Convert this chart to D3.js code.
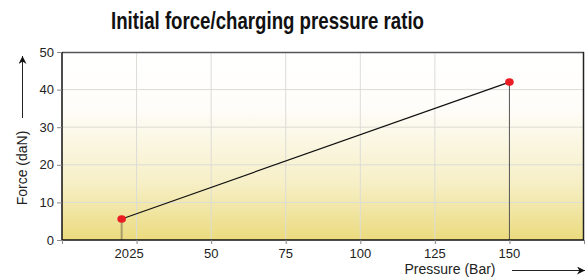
<!DOCTYPE html>
<html>
<head>
<meta charset="utf-8">
<script src="https://cdn.jsdelivr.net/npm/d3@7"></script>
<style>
  body { margin: 0; background: #fff; }
  svg { display: block; font-family: "Liberation Sans", Arial, sans-serif; }
</style>
</head>
<body>
<svg width="586" height="278"></svg>
<script>
// data
const pressure = [20, 150];      // Bar
const force = [5.6, 42];         // daN
const xTicks = [0, 25, 50, 75, 100, 125, 150, 175];
const xLabels = [20, 25, 50, 75, 100, 125, 150];
const yTicks = [0, 10, 20, 30, 40, 50];

const svg = d3.select("svg"),
  margin = { top: 52, right: 2, bottom: 38, left: 62 },
  width = +svg.attr("width") - margin.left - margin.right,
  height = +svg.attr("height") - margin.top - margin.bottom;

const x = d3.scaleLinear().domain([0, 175]).range([0, width]);
const y = d3.scaleLinear().domain([0, 50]).range([height, 0]);

// background gradient
const grad = svg.append("defs").append("linearGradient")
  .attr("id", "bg").attr("x1", 0).attr("y1", 0).attr("x2", 0).attr("y2", 1);
grad.append("stop").attr("offset", "0%").attr("stop-color", "#ffffff");
grad.append("stop").attr("offset", "30%").attr("stop-color", "#fefdf9");
grad.append("stop").attr("offset", "70%").attr("stop-color", "#f6efc6");
grad.append("stop").attr("offset", "100%").attr("stop-color", "#ebdb7e");

// condensed bold title, squeezed to the reference width
svg.append("text")
  .attr("x", 111).attr("y", 29)
  .attr("textLength", 313).attr("lengthAdjust", "spacingAndGlyphs")
  .style("font-family", "'Liberation Sans', Arial, sans-serif")
  .style("font-weight", "bold")
  .style("font-size", "24px")
  .attr("fill", "#111")
  .text("Initial force/charging pressure ratio");

const g = svg.append("g")
  .attr("transform", "translate(" + margin.left + "," + margin.top + ")");

g.append("rect")
  .attr("width", width).attr("height", height)
  .attr("fill", "url(#bg)");

// grid
g.selectAll(".hgrid").data(yTicks.slice(1, -1)).enter().append("line")
  .attr("x1", 0).attr("x2", width)
  .attr("y1", d => y(d)).attr("y2", d => y(d))
  .attr("stroke", "#dcdcd6").attr("stroke-width", 1);
g.selectAll(".vgrid").data([25, 50, 75, 100, 125]).enter().append("line")
  .attr("y1", 0).attr("y2", height)
  .attr("x1", d => x(d)).attr("x2", d => x(d))
  .attr("stroke", "#dcdcd6").attr("stroke-width", 1);

// frame
g.append("line").attr("x1", 0).attr("x2", width).attr("y1", 0.5).attr("y2", 0.5)
  .attr("stroke", "#555").attr("stroke-width", 1.5);
g.append("line").attr("x1", width - 0.5).attr("x2", width - 0.5).attr("y1", 0).attr("y2", height)
  .attr("stroke", "#222").attr("stroke-width", 1.5);

// drop lines
const dropColors = ["#a89c68", "#555555"];
const dropWidths = [2, 1];
g.selectAll(".drop").data(pressure).enter().append("line")
  .attr("x1", d => x(d)).attr("x2", d => x(d))
  .attr("y1", (d, i) => y(force[i])).attr("y2", height)
  .attr("stroke", (d, i) => dropColors[i])
  .attr("stroke-width", (d, i) => dropWidths[i]);

// axes
const yAxis = g.append("g")
  .call(d3.axisLeft(y).tickValues(yTicks).tickSize(5).tickPadding(3));
yAxis.select(".domain").attr("stroke", "#111").attr("stroke-width", 1.5).attr("d", "M0,0V" + height);
yAxis.selectAll(".tick line").attr("stroke", "#888");
yAxis.selectAll("text").style("font-size", "13px").attr("fill", "#222");

const xAxis = g.append("g")
  .attr("transform", "translate(0," + height + ")")
  .call(d3.axisBottom(x).tickValues(xTicks).tickSize(4).tickFormat(""));
xAxis.select(".domain").attr("stroke", "#111").attr("stroke-width", 1.5).attr("d", "M0,0H" + width);
xAxis.selectAll(".tick line").attr("stroke", "#888");

g.selectAll(".xlab").data(xLabels).enter().append("text")
  .attr("x", d => x(d)).attr("y", height + 18)
  .attr("text-anchor", "middle")
  .style("font-size", "13px").attr("fill", "#222")
  .text(d => d);

// series
const line = d3.line().x(d => x(d[0])).y(d => y(d[1]));
g.append("path")
  .datum(d3.zip(pressure, force))
  .attr("d", line)
  .attr("fill", "none").attr("stroke", "#111").attr("stroke-width", 1.2);

g.selectAll(".pt").data(d3.zip(pressure, force)).enter().append("ellipse")
  .attr("cx", d => x(d[0])).attr("cy", d => y(d[1]))
  .attr("rx", 4.3).attr("ry", 3.8)
  .attr("fill", "#ea1c24");

// arrow marker
svg.select("defs").append("marker")
  .attr("id", "arr").attr("viewBox", "0 0 10 10")
  .attr("refX", 10).attr("refY", 5)
  .attr("markerWidth", 10).attr("markerHeight", 8)
  .attr("markerUnits", "userSpaceOnUse")
  .attr("orient", "auto")
  .append("path").attr("d", "M0,0L10,5L0,10L3,5Z").attr("fill", "#111");

// axis titles
svg.append("text")
  .attr("transform", "translate(27,168) rotate(-90)")
  .attr("text-anchor", "middle")
  .style("font-size", "14px").attr("fill", "#222")
  .text("Force (daN)");
svg.append("line")
  .attr("x1", 22.5).attr("x2", 22.5).attr("y1", 118).attr("y2", 56)
  .attr("stroke", "#222").attr("stroke-width", 1)
  .attr("marker-end", "url(#arr)");

svg.append("text")
  .attr("x", 450).attr("y", 274)
  .attr("text-anchor", "middle")
  .style("font-size", "14px").attr("fill", "#222")
  .text("Pressure (Bar)");
svg.append("line")
  .attr("x1", 512).attr("x2", 585).attr("y1", 270.5).attr("y2", 270.5)
  .attr("stroke", "#222").attr("stroke-width", 1)
  .attr("marker-end", "url(#arr)");
</script>
</body>
</html>
